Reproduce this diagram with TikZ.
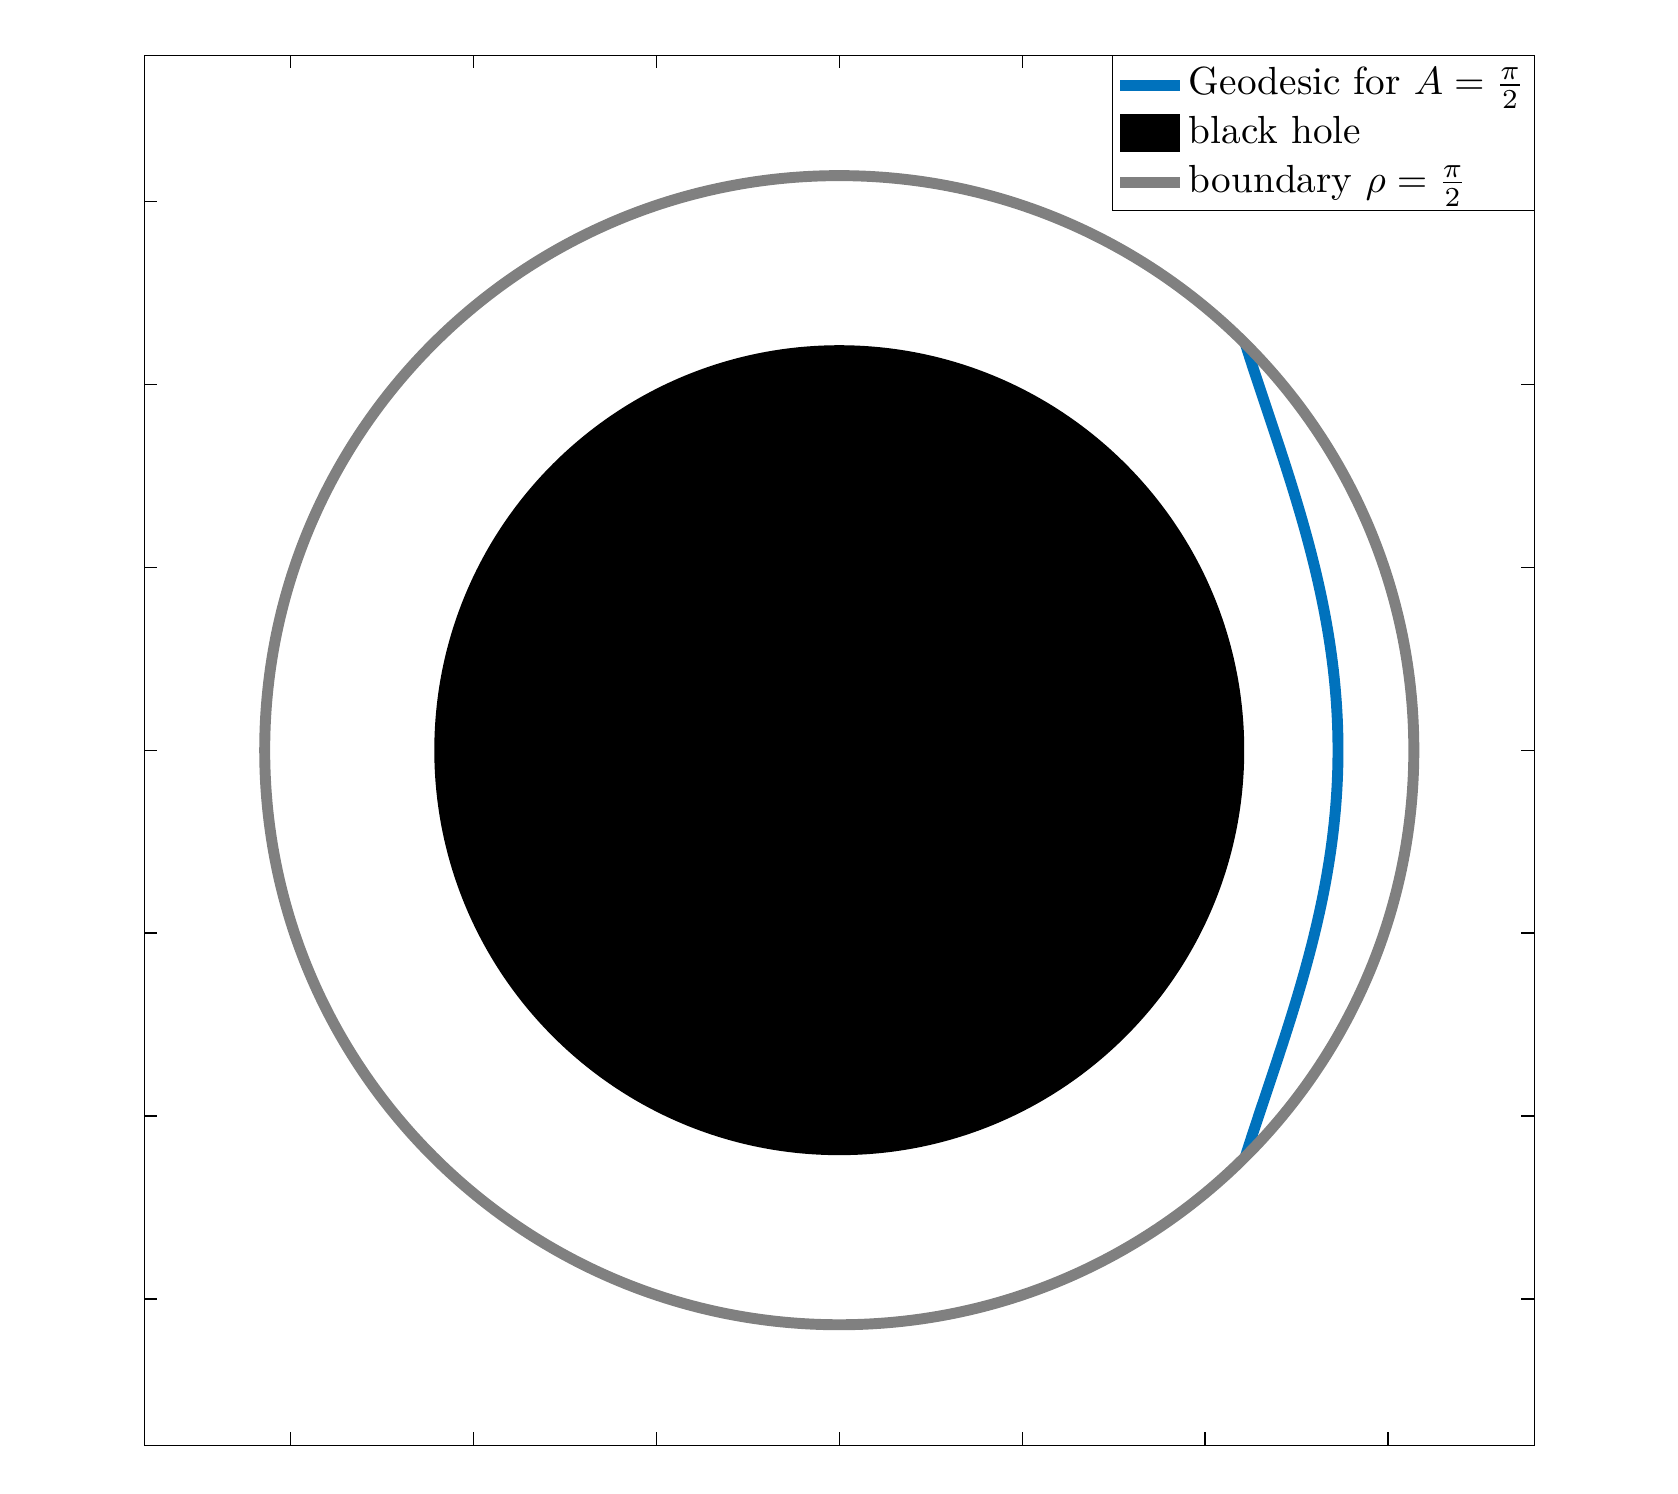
\documentclass[tikz,border=0pt]{standalone}
\definecolor{geoblue}{RGB}{0,114,189}
\definecolor{bdgray}{RGB}{128,128,128}
\newcommand{\legfont}[1]{\scalebox{0.61}{\fontsize{10}{12}\selectfont #1}}
\begin{document}
\begin{tikzpicture}[
  axisline/.style={line width=0.2pt, black},
  geoline/.style={geoblue, line width=1.7pt},
  bdline/.style={bdgray, line width=1.7pt},
  legtext/.style={anchor=west, inner sep=0pt},
]
\useasboundingbox (-4.589,-4.067) rectangle (4.586,4.102);
% black hole
\fill[black] (0,0) circle (2.2143);
% geodesic
\draw[geoline, domain=-2.2214:2.2214, samples=121, variable=\t]
  plot ({2.727-0.134*\t*\t+0.00637*\t*\t*\t*\t}, \t);
% boundary
\draw[bdline] (0,0) circle (3.1416);
% axes box and ticks
\draw[axisline] (-3.8,-3.8) rectangle (3.8,3.8);
\foreach \k in {-3,...,3} {
  \draw[axisline] (\k,-3.8) -- ++(0,0.072);
  \draw[axisline] (\k,3.8) -- ++(0,-0.072);
  \draw[axisline] (-3.8,\k) -- ++(0.072,0);
  \draw[axisline] (3.8,\k) -- ++(-0.072,0);
}
% legend
\draw[axisline, fill=white] (1.493,2.950) rectangle (3.8,3.8);
\draw[geoline] (1.536,3.633) -- (1.864,3.633);
\fill[black] (1.536,3.272) rectangle (1.864,3.477);
\draw[bdline] (1.536,3.103) -- (1.864,3.103);
\node[legtext] (l1) at (1.905,3.622) {\legfont{Geodesic for $A=\frac{\pi}{2}$}};
\node[legtext] (l2) at (1.905,3.392) {\legfont{black hole}};
\node[legtext] (l3) at (1.905,3.087) {\legfont{boundary $\rho=\frac{\pi}{2}$}};
\end{tikzpicture}
\end{document}
